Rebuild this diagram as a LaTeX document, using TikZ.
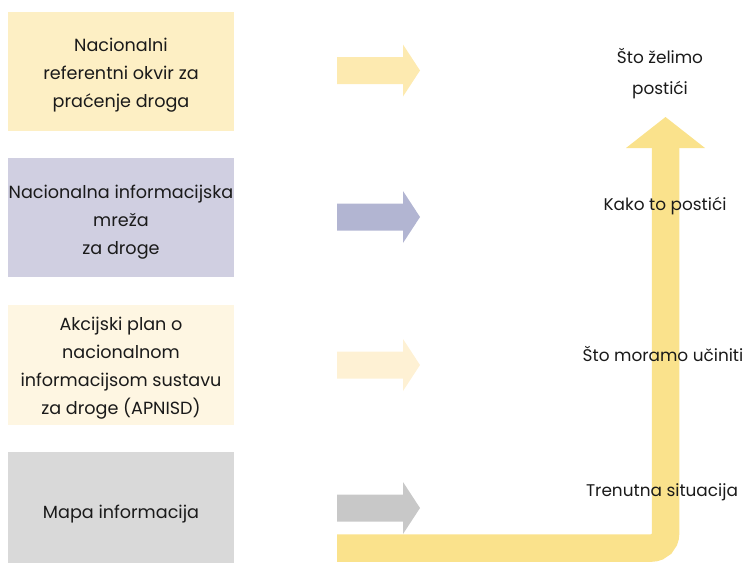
\documentclass[tikz,border=0pt]{standalone}
\usepackage{fontspec}
\setmainfont{Poppins}
\usetikzlibrary{positioning}

\definecolor{zutaKutija}{HTML}{FDEFC4}
\definecolor{zutaStrelica}{HTML}{FDEAB0}
\definecolor{ljubKutija}{HTML}{D0CFE1}
\definecolor{ljubStrelica}{HTML}{B2B5D2}
\definecolor{svijetlaKutija}{HTML}{FEF6E2}
\definecolor{svijetlaStrelica}{HTML}{FEF1D4}
\definecolor{sivaKutija}{HTML}{D9D9D9}
\definecolor{sivaStrelica}{HTML}{C8C8C8}
\definecolor{put}{HTML}{FAE28C}
\definecolor{tekst}{HTML}{1A1A1A}

% block arrow: colour, vertical centre
\newcommand{\strelica}[2]{%
  \fill[#1] (337,#2-13.5) -- (403,#2-13.5) -- (403,#2-26) -- (420,#2)
    -- (403,#2+26) -- (403,#2+13.5) -- (337,#2+13.5) -- cycle;}

\begin{document}
\begin{tikzpicture}[x=1pt, y=-1pt,
    every node/.style={text=tekst, inner sep=0pt},
    kutija/.style={minimum width=226pt},
    natpis/.style={font=\fontsize{17.6}{28}\selectfont, align=center},
    oznaka/.style={font=\fontsize{16.9}{31}\selectfont, align=center}]
				\useasboundingbox (0,0) rectangle (747,563);

				% Boxes
				\node[kutija, fill=zutaKutija, minimum height=119pt] (okvir) at (121,71) {};
				\node[kutija, fill=ljubKutija, minimum height=119pt] (mreza) at (121,217.5) {};
				\node[kutija, fill=svijetlaKutija, minimum height=120pt] (plan) at (121,365) {};
				\node[kutija, fill=sivaKutija, minimum height=111pt] (mapa) at (121,507.5) {};

				% Box texts
				\node[natpis] (okvirTekst) at ([yshift=-4pt]okvir.center)
					{Nacionalni\\referentni okvir za\\praćenje droga};
				\node[natpis] (mrezaTekst) at ([yshift=-5pt]mreza.center)
					{Nacionalna informacijska\\mreža\\za droge};
				\node[natpis] (planTekst) at ([yshift=-3pt]plan.center)
					{Akcijski plan o\\nacionalnom\\informacijsom sustavu\\za droge (APNISD)};
				\node[natpis] (mapaTekst) at ([yshift=-7pt]mapa.center)
					{Mapa informacija};

				% Arrows
				\strelica{zutaStrelica}{70.5}
				\strelica{ljubStrelica}{217}
				\strelica{svijetlaStrelica}{365}
				\strelica{sivaStrelica}{508}

				% Path
				\draw[put, line width=27.5pt, rounded corners=14pt] (337,548) -- (665.5,548) -- (665.5,147);
				\fill[put] (626,148) -- (665.5,117) -- (705,148) -- cycle;

				% Labels
				\node[oznaka] (cilj) at (660,74) {Što želimo\\postići};
				\node[oznaka] (kako) at (665,206) {Kako to postići};
				\node[oznaka] (moramo) at (663,353.5) {Što moramo učiniti};
				\node[oznaka] (trenutno) at (662,492) {Trenutna situacija};
			\end{tikzpicture}
\end{document}
